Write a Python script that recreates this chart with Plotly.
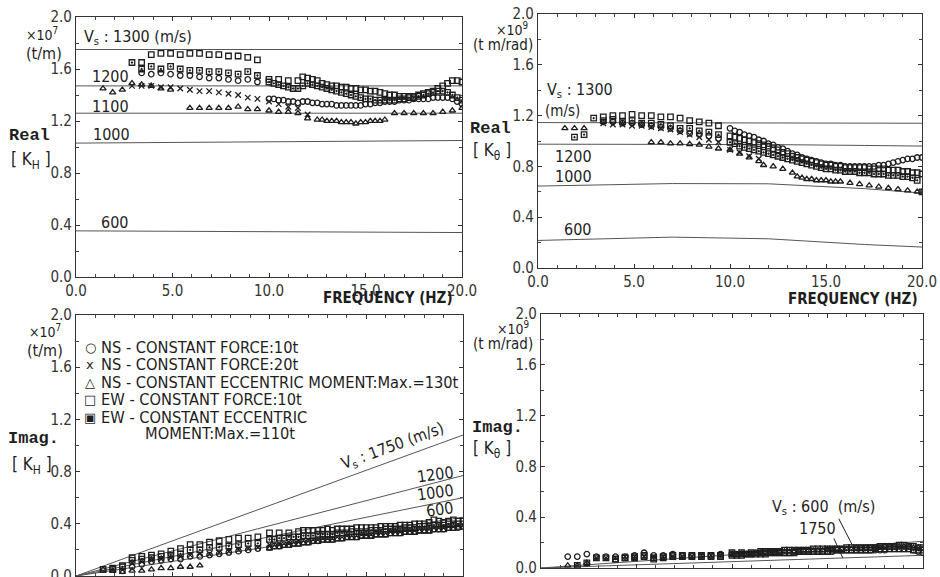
import plotly.graph_objects as go

W, H = 940, 577

# ---------------------------------------------------------------- data
# frequency sweeps (Hz): low-range steps and fine high-range steps
freq_lo = [1.4, 1.9, 2.4, 2.9, 3.4, 3.9, 4.4, 4.9, 5.4, 5.9, 6.4, 6.9, 7.4, 7.9, 8.4, 8.9, 9.4]
freq_hi = [10.0, 10.25, 10.5, 10.75, 11.0, 11.25, 11.5, 11.75, 12.0, 12.25, 12.5, 12.75,
           13.0, 13.25, 13.5, 13.75, 14.0, 14.25, 14.5, 14.75, 15.0, 15.25, 15.5, 15.75,
           16.0, 16.25, 16.5, 16.75, 17.0, 17.25, 17.5, 17.75, 18.0, 18.25, 18.5, 18.75,
           19.0, 19.25, 19.5, 19.75, 20.0]
freq_all = freq_lo + freq_hi

# ---- Real [K_H]  (x10^7 t/m)
kh_re_ew10 = [None, None, None, None, 1.65, 1.71, 1.72, 1.72, 1.71, 1.72, 1.72, 1.71, 1.71, 1.70, 1.70, 1.69, 1.67,
              1.52, None, 1.52, None, 1.51, None, 1.51, 1.54, 1.53, 1.52, 1.51, 1.49, 1.48, 1.47, 1.47, 1.46,
              1.46, 1.45, 1.45, 1.44, 1.44, 1.43, 1.43, 1.42, 1.41, 1.40, 1.40, 1.39, 1.39, 1.39, 1.39, 1.40,
              1.41, 1.42, 1.43, 1.45, 1.47, 1.49, 1.51, 1.51, 1.50]
kh_re_ewecc = [None, None, None, 1.65, 1.60, 1.62, 1.60, 1.62, 1.60, 1.59, 1.59, 1.58, 1.58, 1.57, 1.56, 1.58, 1.55,
               1.50, 1.49, 1.48, 1.47, 1.46, 1.45, 1.45, 1.47, 1.49, 1.48, 1.47, 1.46, 1.45, 1.44, 1.43, 1.42,
               1.41, 1.40, 1.39, 1.38, 1.37, 1.37, 1.36, 1.36, 1.36, 1.36, 1.36, 1.37, 1.37, 1.38, 1.38, 1.39,
               1.40, 1.41, 1.42, 1.43, 1.43, 1.42, 1.40, 1.38, 1.36]
kh_re_ns10 = [None, None, None, None, 1.57, 1.56, 1.57, 1.56, 1.55, 1.55, 1.54, 1.53, 1.53, 1.52, 1.51, 1.52, 1.50,
              1.37, 1.37, 1.36, 1.36, 1.35, 1.35, 1.34, 1.35, 1.35, 1.34, 1.34, 1.33, 1.33, 1.33, 1.32, 1.32,
              1.32, 1.32, 1.32, 1.32, 1.33, 1.33, 1.34, 1.34, 1.35, 1.35, 1.35, 1.36, 1.36, 1.36, 1.37, 1.37,
              1.37, 1.37, 1.38, 1.38, 1.38, 1.38, 1.37, 1.35, 1.33]
kh_re_ns20 = [None, None, None, 1.47, 1.47, 1.47, 1.46, 1.46, 1.45, 1.44, 1.43, 1.43, 1.42, 1.41, 1.40, 1.38, 1.37,
              1.35, None, 1.33, None, 1.31, None, 1.30, None, 1.25] + [None] * 32
kh_re_nsecc = [1.45, 1.42, 1.44, 1.49, 1.48, 1.47, 1.45, 1.44, None, 1.30, 1.30, 1.30, 1.30, 1.30, 1.31, 1.29, 1.29,
               1.28, None, 1.27, None, 1.27, None, 1.26, None, 1.22, None, 1.21, 1.21, 1.20, 1.20, 1.20, 1.19,
               1.19, 1.19, 1.18, 1.19, 1.19, 1.20, 1.20, 1.20, 1.21, None, 1.26, None, 1.26, None, 1.26, None,
               1.26, None, 1.26, None, 1.27, None, 1.28, None, 1.30]

# ---- Real [K_theta]  (x10^9 t m/rad)
kt_re_ew10 = [None, None, None, None, 1.19, 1.20, 1.20, 1.21, 1.20, 1.20, 1.19, 1.19, 1.18, 1.16, 1.15, 1.14, 1.12,
              1.04, 1.03, 1.02, 1.01, 1.00, 0.99, 0.98, 0.97, 0.96, 0.94, 0.93, 0.91, 0.90, 0.88, 0.87, 0.86,
              0.85, 0.84, 0.83, 0.82, 0.81, 0.81, 0.80, 0.80, 0.79, 0.79, 0.79, 0.79, 0.79, 0.78, 0.78, 0.78,
              0.78, 0.77, 0.77, 0.77, 0.76, 0.76, 0.75, 0.75, 0.74]
kt_re_ewecc = [None, 1.03, 1.05, 1.18, 1.16, 1.17, 1.15, 1.16, 1.14, 1.14, 1.13, 1.12, 1.10, 1.10, 1.08, 1.07, 1.05,
               0.99, 0.98, 0.96, 0.95, 0.94, 0.93, 0.92, 0.91, 0.90, 0.89, 0.88, 0.87, 0.86, 0.85, 0.84, 0.83,
               0.82, 0.81, 0.80, 0.79, 0.78, 0.78, 0.77, 0.77, 0.76, 0.76, 0.76, 0.75, 0.75, 0.75, 0.74, 0.74,
               0.74, 0.73, 0.73, 0.73, 0.72, 0.72, 0.71, 0.69, 0.60]
kt_re_ns10 = [None, None, None, None, 1.15, 1.15, 1.14, 1.14, 1.13, 1.12, 1.11, 1.10, 1.08, 1.06, 1.05, 1.04, 1.02,
              1.10, 1.08, 1.07, 1.05, 1.04, 1.03, 1.01, 1.00, 0.98, 0.97, 0.95, 0.94, 0.92, 0.90, 0.89, 0.87,
              0.86, 0.85, 0.84, 0.83, 0.82, 0.82, 0.81, 0.81, 0.80, 0.80, 0.80, 0.80, 0.80, 0.80, 0.80, 0.81,
              0.81, 0.82, 0.83, 0.84, 0.85, 0.86, 0.86, 0.87, 0.87]
kt_re_ns20 = [None, None, None, None, 1.14, 1.13, 1.13, 1.12, 1.12, 1.11, 1.10, 1.09, 1.07, 1.05, 1.03, 1.01, 0.99,
              0.93, None, 0.91, None, 0.88, None, 0.86] + [None] * 34
kt_re_nsecc = [1.10, 1.10, 1.10, None, None, None, None, None, None, 0.99, 0.99, 0.98, 0.98, 0.975, 0.97, 0.955, 0.94,
               0.93, None, 0.90, None, 0.87, None, 0.84, 0.81, None, 0.80, None, 0.78, None, 0.75, 0.72, 0.71,
               0.70, 0.70, 0.69, 0.69, 0.69, 0.68, 0.68, 0.68, None, 0.67, None, 0.66, None, 0.65, None, 0.64,
               None, 0.63, None, 0.62, None, 0.61, None, 0.60, 0.60]

# ---- Imag [K_H]  (x10^7 t/m)
kh_im_ew10 = [0.05, 0.06, 0.08, 0.14, 0.15, 0.16, 0.17, 0.19, 0.21, 0.24, 0.24, 0.26, 0.27, 0.28, 0.29, 0.29, 0.30,
              0.33, None, 0.33, None, 0.33, None, 0.34, 0.35, 0.35, 0.35, 0.35, 0.35, 0.36, 0.35, 0.36, 0.36,
              0.36, 0.36, 0.37, 0.37, 0.37, 0.37, 0.37, 0.38, 0.38, 0.38, 0.38, 0.39, 0.39, 0.39, 0.40, 0.40,
              0.40, 0.41, 0.43, 0.42, 0.41, 0.42, 0.43, 0.42, 0.42]
kh_im_ewecc = [None, 0.05, 0.07, 0.12, 0.13, 0.14, 0.15, 0.16, 0.17, 0.20, 0.20, 0.22, 0.22, 0.23, 0.24, 0.25, 0.25,
               0.28, 0.28, 0.29, 0.29, 0.30, 0.30, 0.30, 0.31, 0.31, 0.31, 0.32, 0.32, 0.32, 0.32, 0.33, 0.33,
               0.33, 0.34, 0.34, 0.34, 0.34, 0.35, 0.35, 0.35, 0.36, 0.36, 0.36, 0.36, 0.37, 0.37, 0.37, 0.38,
               0.38, 0.38, 0.39, 0.39, 0.39, 0.40, 0.40, 0.40, 0.40]
kh_im_ns10 = [None, None, 0.04, 0.07, 0.09, 0.11, 0.12, 0.13, 0.13, 0.15, 0.15, 0.16, 0.17, 0.18, 0.19, 0.20, 0.21,
              0.22, 0.23, 0.23, 0.24, 0.24, 0.25, 0.25, 0.26, 0.26, 0.27, 0.27, 0.28, 0.28, 0.28, 0.29, 0.29,
              0.30, 0.30, 0.30, 0.31, 0.31, 0.31, 0.32, 0.32, 0.32, 0.33, 0.33, 0.33, 0.34, 0.34, 0.34, 0.35,
              0.35, 0.35, 0.36, 0.36, 0.36, 0.37, 0.37, 0.37, 0.38]
kh_im_ns20 = [None, None, None, 0.10, 0.11, 0.12, 0.13, 0.14, 0.15, 0.16, 0.17, 0.17, 0.18, 0.19, 0.20, 0.21, 0.22,
              0.24, None, 0.25, None, 0.26, None, 0.27] + [None] * 34
kh_im_nsecc = [0.05, 0.04, 0.03, 0.04, 0.04, 0.05, 0.06, 0.06, 0.07, 0.07, 0.08, None, None, None, None, None, None,
               0.21, 0.22, 0.22, 0.23, 0.23, 0.24, 0.24, 0.25, 0.25, 0.26, 0.26, 0.27, 0.27, 0.27, 0.28, 0.28,
               0.29, 0.29, 0.29, 0.30, 0.30, 0.30, 0.31, 0.31, 0.31, 0.32, 0.32, 0.32, 0.33, 0.33, 0.33, 0.34,
               0.34, 0.34, 0.35, 0.35, 0.35, 0.36, 0.36, 0.37, 0.37]

# ---- Imag [K_theta]  (x10^9 t m/rad)
kt_im_ew10 = [None, None, None, None, None, 0.07, 0.08, 0.09, 0.10, 0.08, 0.09, 0.10, 0.10, 0.10, 0.10, 0.10, 0.10,
              0.12, None, 0.12, None, 0.12, None, 0.13, 0.13, 0.13, 0.13, 0.13, 0.14, 0.14, 0.14, 0.14, 0.14,
              0.14, 0.15, 0.15, 0.15, 0.15, 0.15, 0.15, 0.15, 0.16, 0.16, 0.16, 0.16, 0.16, 0.16, 0.16, 0.17,
              0.17, 0.17, 0.17, 0.18, 0.18, 0.17, 0.17, 0.16, 0.16]
kt_im_ewecc = [None, 0.02, 0.04, 0.08, 0.08, 0.07, 0.08, 0.08, 0.09, 0.07, 0.08, 0.09, 0.09, 0.09, 0.09, 0.09, 0.09,
               0.10, 0.10, 0.10, 0.11, 0.11, 0.11, 0.11, 0.11, 0.12, 0.12, 0.12, 0.12, 0.12, 0.12, 0.13, 0.13,
               0.13, 0.13, 0.13, 0.13, 0.13, 0.14, 0.14, 0.14, 0.14, 0.14, 0.14, 0.14, 0.14, 0.14, 0.15, 0.15,
               0.15, 0.15, 0.15, 0.15, 0.15, 0.15, 0.14, 0.14, 0.14]
kt_im_ns10 = [0.09, 0.09, 0.11, 0.09, 0.09, 0.09, 0.09, 0.10, 0.12, 0.10, 0.10, 0.11, 0.10, 0.10, 0.10, 0.10, 0.11,
              0.11, 0.11, 0.11, 0.11, 0.11, 0.12, 0.12, 0.12, 0.12, 0.12, 0.12, 0.12, 0.12, 0.13, 0.13, 0.13,
              0.13, 0.13, 0.13, 0.13, 0.13, 0.13, 0.14, 0.14, 0.14, 0.14, 0.14, 0.14, 0.14, 0.14, 0.14, 0.14,
              0.14, 0.15, 0.15, 0.15, 0.15, 0.15, 0.14, 0.13, 0.12]
kt_im_ns20 = [None, None, None, 0.08, 0.08, 0.08, 0.09, 0.09, 0.09, 0.09, 0.09, 0.09, 0.09, 0.09, 0.10, 0.10, 0.10,
              0.11, None, 0.11, None, 0.11, None, 0.12] + [None] * 34
kt_im_nsecc = [0.02, 0.02, 0.04] + [None] * 14 + [
               0.10, 0.10, 0.11, 0.11, 0.11, 0.11, 0.12, 0.12, 0.12, 0.12, 0.13, 0.13, 0.13, 0.13, 0.13, 0.14,
               0.14, 0.14, 0.14, 0.14, 0.15, 0.15, 0.15, 0.15, 0.15, 0.15, 0.16, 0.16, 0.16, 0.16, 0.16, 0.16,
               0.17, 0.17, 0.17, 0.17, 0.17, 0.17, 0.16, 0.16, 0.15]

# ---- theoretical impedances for several shear-wave velocities Vs
th_freq_a = [0.0, 5.0, 10.0, 15.0, 20.0]
kh_re_vs1300 = [1.75, 1.75, 1.75, 1.75, 1.75]
kh_re_vs1200 = [1.47, 1.47, 1.47, 1.47, 1.47]
kh_re_vs1100 = [1.26, 1.26, 1.26, 1.26, 1.26]
kh_re_vs1000 = [1.03, 1.035, 1.04, 1.045, 1.05]
kh_re_vs600 = [0.355, 0.353, 0.350, 0.346, 0.342]

th_freq_b = [0.0, 3.5, 7.0, 12.0, 17.0, 20.0]
kt_re_vs1300 = [1.145, 1.145, 1.145, 1.145, 1.143, 1.14]
kt_re_vs1200 = [0.975, 0.975, 0.975, 0.972, 0.965, 0.96]
kt_re_vs1000 = [0.645, 0.655, 0.665, 0.663, 0.625, 0.59]
kt_re_vs600 = [0.217, 0.232, 0.243, 0.230, 0.185, 0.165]

th_freq_c = [0.0, 20.0]
kh_im_vs1750 = [0.0, 1.08]
kh_im_vs1200 = [0.0, 0.77]
kh_im_vs1000 = [0.0, 0.60]
kh_im_vs600 = [0.0, 0.45]

th_freq_d = [0.0, 20.0]
kt_im_vs600 = [0.0, 0.21]
kt_im_vs1750 = [0.0, 0.10]

# ---------------------------------------------------------------- styling
INK = "#1e1e1e"
LINE = "#555555"
NARROW = "Liberation Sans Narrow, DejaVu Sans Condensed, Liberation Sans, Arial, sans-serif"
MONO = "Liberation Mono, DejaVu Sans Mono, monospace"

SYMBOLS = {
    "ns10": "circle-open",
    "ns20": "x-thin-open",
    "nsecc": "triangle-up-open",
    "ew10": "square-open",
    "ewecc": "square-open-dot",
}


def pdom(x0, x1):
    return [x0 / W, x1 / W]


def pdomy(y_top, y_bot):
    return [1 - y_bot / H, 1 - y_top / H]


fig = go.Figure()

panels = {
    "a": ("x", "y", [("ew10", kh_re_ew10), ("ewecc", kh_re_ewecc), ("ns10", kh_re_ns10),
                     ("ns20", kh_re_ns20), ("nsecc", kh_re_nsecc)]),
    "b": ("x2", "y2", [("ew10", kt_re_ew10), ("ewecc", kt_re_ewecc), ("ns10", kt_re_ns10),
                       ("ns20", kt_re_ns20), ("nsecc", kt_re_nsecc)]),
    "c": ("x3", "y3", [("ew10", kh_im_ew10), ("ewecc", kh_im_ewecc), ("ns10", kh_im_ns10),
                       ("ns20", kh_im_ns20), ("nsecc", kh_im_nsecc)]),
    "d": ("x4", "y4", [("ew10", kt_im_ew10), ("ewecc", kt_im_ewecc), ("ns10", kt_im_ns10),
                       ("ns20", kt_im_ns20), ("nsecc", kt_im_nsecc)]),
}

theory = [
    ("x", "y", th_freq_a, [kh_re_vs1300, kh_re_vs1200, kh_re_vs1100, kh_re_vs1000, kh_re_vs600]),
    ("x2", "y2", th_freq_b, [kt_re_vs1300, kt_re_vs1200, kt_re_vs1000, kt_re_vs600]),
    ("x3", "y3", th_freq_c, [kh_im_vs1750, kh_im_vs1200, kh_im_vs1000, kh_im_vs600]),
    ("x4", "y4", th_freq_d, [kt_im_vs600, kt_im_vs1750]),
]

for xa, ya, fr, curves in theory:
    for vals in curves:
        fig.add_trace(go.Scatter(x=fr, y=vals, mode="lines", xaxis=xa, yaxis=ya,
                                 line=dict(color=LINE, width=1), showlegend=False,
                                 hoverinfo="skip"))

for key, (xa, ya, series) in panels.items():
    for sid, vals in series:
        fig.add_trace(go.Scatter(
            x=freq_all, y=vals, mode="markers", xaxis=xa, yaxis=ya, showlegend=False,
            marker=dict(symbol=SYMBOLS[sid], size=5.5, color=INK,
                        line=dict(color=INK, width=1.3)),
        ))

axis_common = dict(range=[0, 20], showline=True, linecolor="#333", linewidth=1.2, mirror="ticks",
                   ticks="inside", ticklen=4, tickcolor="#333", showgrid=False, zeroline=False,
                   automargin=False, ticklabeloverflow="allow",
                   tickfont=dict(family=NARROW, size=15, color="#333"))

xax = dict(axis_common, dtick=5, tick0=0, tickformat=".1f",
           minor=dict(dtick=1, ticks="inside", ticklen=3, tickcolor="#444"))
yax = dict(axis_common, range=[0, 2.0], dtick=0.4, tick0=0, tickformat=".1f",
           minor=dict(dtick=0.2, ticks="inside", ticklen=3, tickcolor="#444"))

fig.update_layout(
    width=W, height=H, margin=dict(l=0, r=0, t=0, b=0, autoexpand=False),
    paper_bgcolor="white", plot_bgcolor="white",
    xaxis=dict(xax, domain=pdom(76, 462), anchor="y"),
    yaxis=dict(yax, domain=pdomy(17, 277), anchor="x"),
    xaxis2=dict(xax, domain=pdom(538, 922), anchor="y2"),
    yaxis2=dict(yax, domain=pdomy(14, 268), anchor="x2"),
    xaxis3=dict(xax, domain=pdom(76, 463), anchor="y3", showticklabels=False),
    yaxis3=dict(yax, domain=pdomy(315, 576), anchor="x3"),
    xaxis4=dict(xax, domain=pdom(541, 923), anchor="y4", showticklabels=False),
    yaxis4=dict(yax, domain=pdomy(314, 568), anchor="x4"),
)

ann = []


def ptext(text, x, y, size=15, family=NARROW, xanchor="center", bold=False):
    if bold:
        text = "<b>" + text + "</b>"
    ann.append(dict(text=text, x=x / W, y=1 - y / H, xref="paper", yref="paper",
                    xanchor=xanchor, yanchor="middle", showarrow=False,
                    font=dict(family=family, size=size, color=INK)))


def dtext(text, xa, ya, x, y, size=15, xanchor="left", angle=0):
    ann.append(dict(text=text, x=x, y=y, xref=xa, yref=ya, xanchor=xanchor,
                    yanchor="middle", showarrow=False, textangle=angle,
                    font=dict(family=NARROW, size=size, color=INK)))


# axis unit / quantity labels
ptext("×10<sup>7</sup>", 42, 34, 14)
ptext("(t/m)", 44, 53, 16)
ptext("Real", 29, 135, 17, MONO, bold=True)
ptext("[ K<sub>H</sub> ]", 31, 160, 17)
ptext("FREQUENCY (HZ)", 388, 298, 15, bold=True)

ptext("×10<sup>9</sup>", 512, 29, 14)
ptext("(t m/rad)", 503, 45, 15)
ptext("Real", 490, 128, 17, MONO, bold=True)
ptext("[ K<sub>θ</sub> ]", 492, 151, 17)
ptext("FREQUENCY (HZ)", 853, 299, 15, bold=True)

ptext("×10<sup>7</sup>", 45, 331, 14)
ptext("(t/m)", 45, 350, 16)
ptext("Imag.", 33, 438, 17, MONO, bold=True)
ptext("[ K<sub>H</sub> ]", 32, 465, 17)

ptext("×10<sup>9</sup>", 513, 328, 14)
ptext("(t m/rad)", 503, 344, 15)
ptext("Imag.", 497, 427, 17, MONO, bold=True)
ptext("[ K<sub>θ</sub> ]", 492, 449, 17)

# legend (symbol + description)
legend_rows = [
    ("○", "NS - CONSTANT FORCE:10t", 347),
    ("x", "NS - CONSTANT FORCE:20t", 364),
    ("△", "NS - CONSTANT ECCENTRIC MOMENT:Max.=130t", 382),
    ("□", "EW - CONSTANT FORCE:10t", 399),
    ("▣", "EW - CONSTANT ECCENTRIC", 417),
]
for sym, label, yy in legend_rows:
    ptext(sym, 90, yy, 13, "DejaVu Sans")
    ptext(label, 99, yy, 16.3, xanchor="left")
ptext("MOMENT:Max.=110t", 143, 433, 16.3, xanchor="left")

# Vs labels on the theoretical curves
dtext("V<sub>s</sub> : 1300 (m/s)", "x", "y", 0.3, 1.84, 16)
dtext("1200", "x", "y", 0.7, 1.54, 16)
dtext("1100", "x", "y", 0.7, 1.31, 16)
dtext("1000", "x", "y", 0.8, 1.10, 16)
dtext("600", "x", "y", 1.2, 0.42, 16)

dtext("V<sub>s</sub> : 1300", "x2", "y2", 0.36, 1.40, 16)
dtext("(m/s)", "x2", "y2", 0.26, 1.24, 15)
dtext("1200", "x2", "y2", 0.8, 0.88, 16)
dtext("1000", "x2", "y2", 0.8, 0.72, 16)
dtext("600", "x2", "y2", 1.25, 0.30, 16)

dtext("V<sub>s</sub> : 1750 (m/s)", "x3", "y3", 16.4, 0.99, 16, "center", -20)
dtext("1200", "x3", "y3", 18.6, 0.78, 16, "center", -8)
dtext("1000", "x3", "y3", 18.6, 0.64, 16, "center", -8)
dtext("600", "x3", "y3", 18.8, 0.51, 16, "center", -8)

dtext("V<sub>s</sub> : 600  (m/s)", "x4", "y4", 12.0, 0.48, 16)
dtext("1750", "x4", "y4", 13.4, 0.315, 16)
for hx, hy, tx, ty in [(16.3, 0.18, 15.55, 0.40), (15.8, 0.079, 15.3, 0.244)]:
    ann.append(dict(text="", x=hx, y=hy, ax=tx, ay=ty, xref="x4", yref="y4",
                    axref="x4", ayref="y4", showarrow=True, arrowhead=0,
                    arrowwidth=1, arrowcolor=INK))

fig.update_layout(annotations=ann)

fig.write_html("out.html")
